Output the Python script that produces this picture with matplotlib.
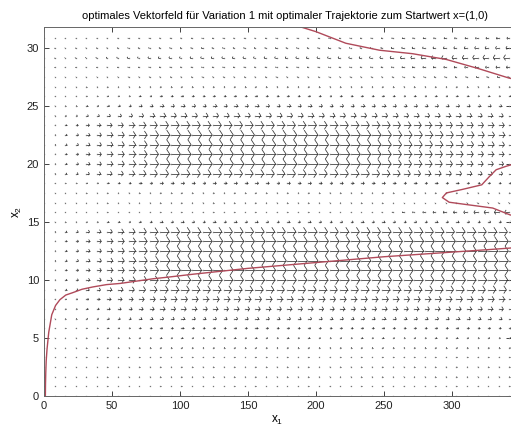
import numpy as np
import matplotlib
matplotlib.use("Agg")
import matplotlib.pyplot as plt
from matplotlib.collections import LineCollection

# gitter des vektorfeldes
x1_grid = np.linspace(0, 350, 46)
x2_grid = np.arange(38) * 5 / 6

u_mid = [0, 0.03, 0.04, 0.05, 0.06, 0.09, 0.14, 0.22, 0.33, 0.48,
         0.62, 0.8, 0.95, 1.0, 1.0, 1.0, 1.0, 0.9, 0.25, 0.04,
         0.04, 0.07, 0.3, 0.85, 1.0, 1.0, 1.0, 1.0, 0.85, 0.55,
         0.35, 0.2, 0.07, -0.06, -0.1, -0.2, -0.12, -0.08]
u_right = [0, 0.03, 0.04, 0.05, 0.06, 0.09, 0.14, 0.22, 0.33, 0.48,
           0.62, 0.8, 0.95, 1.0, 1.0, 1.0, 1.0, 0.9, 0.25, -0.5,
           -0.06, 0.06, 0.2, 0.35, 0.45, 0.5, 0.55, 0.6, 0.55, 0.45,
           0.3, 0.15, 0.06, -0.15, -0.3, -0.6, -0.35, -0.25]
# stuetzstellen in x1: links 0, ab x1=85 voll, ab 230 uebergang nach rechts
x1_anchor = [0, 85, 230, 345]

# optimale trajektorie ab x=(1,0)
traj_x1 = [1, 1.1, 1.3, 1.6, 2.2, 3.5, 5.7, 8.5, 11.7, 16, 21, 28, 36, 46,
           56, 68, 80, 92.5, 110, 130, 150, 175, 200, 225, 250, 275, 300,
           325, 343, 365, 365, 343, 330, 310.6, 298, 293, 296, 307.6, 322,
           327.5, 332.6, 340, 343, 365, 365, 342, 320, 296, 271, 246.7,
           222, 200, 189, 175]
traj_x2 = [0, 1.0, 2.0, 3.0, 4.0, 5.5, 7.0, 7.8, 8.3, 8.7, 8.9, 9.2, 9.4,
           9.6, 9.7, 9.9, 10.1, 10.26, 10.5, 10.75, 11.0, 11.25, 11.5,
           11.75, 12.0, 12.2, 12.4, 12.6, 12.75, 13.2, 15.2, 15.6, 16.2,
           16.5, 16.7, 17.1, 17.5, 17.8, 18.2, 18.9, 19.5, 19.8, 19.9,
           21.0, 26.8, 27.4, 28.2, 29.0, 29.5, 29.8, 30.4, 31.4, 31.8, 32.6]


def build_field():
    X, Y = np.meshgrid(x1_grid, x2_grid)
    U = np.zeros_like(X)
    for i in range(len(x2_grid)):
        prof = [0.0, u_mid[i], u_mid[i], u_right[i]]
        U[i] = np.interp(x1_grid, x1_anchor, prof)
    V = np.zeros_like(U)
    return X, Y, U, V


def matlab_quiver(ax, X, Y, U, V, color='k', lw=0.5, alpha=0.33, beta=0.18):
    # pfeile wie das alte matlab quiver: spitzen in datenkoordinaten
    eps = 1e-12
    x, y = X.ravel(), Y.ravel()
    u, v = U.ravel(), V.ravel()
    segs = []
    for xi, yi, ui, vi in zip(x, y, u, v):
        tip = (xi + ui, yi + vi)
        segs.append([(xi, yi), tip])
        h1 = (xi + ui - alpha * (ui + beta * (vi + eps)),
              yi + vi - alpha * (vi - beta * (ui + eps)))
        h2 = (xi + ui - alpha * (ui - beta * (vi + eps)),
              yi + vi - alpha * (vi + beta * (ui + eps)))
        segs.append([h1, tip, h2])
    ax.add_collection(LineCollection(segs, colors=color, linewidths=lw))
    # punkte an den fusspunkten (auch bei laenge null sichtbar)
    ax.plot(x, y, ls='none', marker='s', ms=0.9, mew=0, color='#777777')


def main():
    fig = plt.figure(figsize=(5.11, 4.33), dpi=100)
    ax = fig.add_axes([44 / 511, 37 / 433, 1 - 44 / 511, (396 - 27) / 433])
    X, Y, U, V = build_field()
    dx = x1_grid[1] - x1_grid[0]
    matlab_quiver(ax, X, Y, U * dx * 0.9, V, color='#333333', lw=0.55)
    ax.plot(traj_x1, traj_x2, color='#b04a5a', lw=1.0)

    ax.set_xlim(0, 343.5)
    ax.set_ylim(0, 31.8)
    ax.set_xticks(np.arange(0, 301, 50))
    ax.set_yticks(np.arange(0, 31, 5))
    ax.tick_params(direction='in', length=3.5, top=True, right=True,
                   labelsize=8, colors='#222222', width=0.6)
    for s in ax.spines.values():
        s.set_color('#666666')
        s.set_linewidth(0.7)
    ax.spines['right'].set_visible(False)
    ax.set_xlabel(r'x$_1$', fontsize=8.5, labelpad=2)
    ax.set_ylabel(r'x$_2$', fontsize=8.5, labelpad=2)
    ax.set_title(u'optimales Vektorfeld f\u00fcr Variation 1 mit optimaler '
                 u'Trajektorie zum Startwert x=(1,0)', fontsize=8, x=0.516, pad=6)
    fig.savefig('out.png', dpi=100)


if __name__ == '__main__':
    plt.rcParams['font.family'] = ['Liberation Sans', 'DejaVu Sans']
    plt.rcParams['mathtext.fontset'] = 'custom'
    plt.rcParams['mathtext.rm'] = 'Liberation Sans'
    plt.rcParams['mathtext.it'] = 'Liberation Sans'
    main()
